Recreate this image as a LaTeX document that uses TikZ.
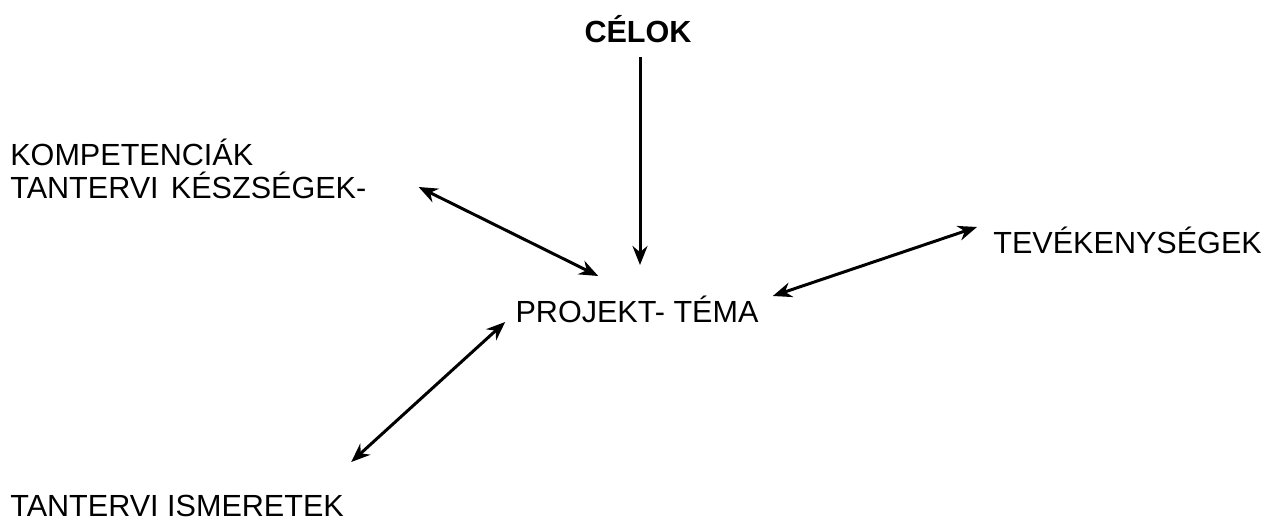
\documentclass[tikz,border=0pt]{standalone}
\usepackage{fontspec}
\setmainfont{Liberation Sans}
\usetikzlibrary{arrows.meta,calc}
\begin{document}
\begin{tikzpicture}[x=0.02cm,y=-0.02cm]
        \tikzstyle{word} = [inner sep=0pt, font=\fontsize{17.4}{21}\selectfont, anchor=base west]
        \tikzstyle{arrow} = [line width=1.7pt, >={Stealth[length=0.38cm,width=0.3cm]}]
        \useasboundingbox (0,0) rectangle (1267,523);

                \node (celok) [word, anchor=base, font=\fontsize{17.4}{21}\selectfont\bfseries] at (638,43) {CÉLOK};
                \node (komp) [word] at (10,166) {KOMPETENCIÁK};
                \node (kesz) [word] at (10,199) {TANTERVI\hspace{0.4em}KÉSZSÉGEK-};
                \node (projekt) [word, anchor=base] at (637,322) {PROJEKT- TÉMA};
                \node (tev) [word] at (993,254) {TEVÉKENYSÉGEK};
                \node (ism) [word] at (10,516) {TANTERVI ISMERETEK};

                \draw[arrow,->] ($(celok.base)+(2,14)$) -- ($(projekt.base)+(3,-57)$);
                \draw[arrow,<->] ($(kesz.base east)+(52,-12)$) -- ($(projekt.base west)+(83,-46)$);
                \draw[arrow,<->] ($(ism.base east)+(7,-54)$) -- ($(projekt.base west)+(-10,0)$);
                \draw[arrow,<->] ($(projekt.base east)+(14,-26)$) -- ($(tev.base west)+(-16,-27)$);
    \end{tikzpicture}
\end{document}
